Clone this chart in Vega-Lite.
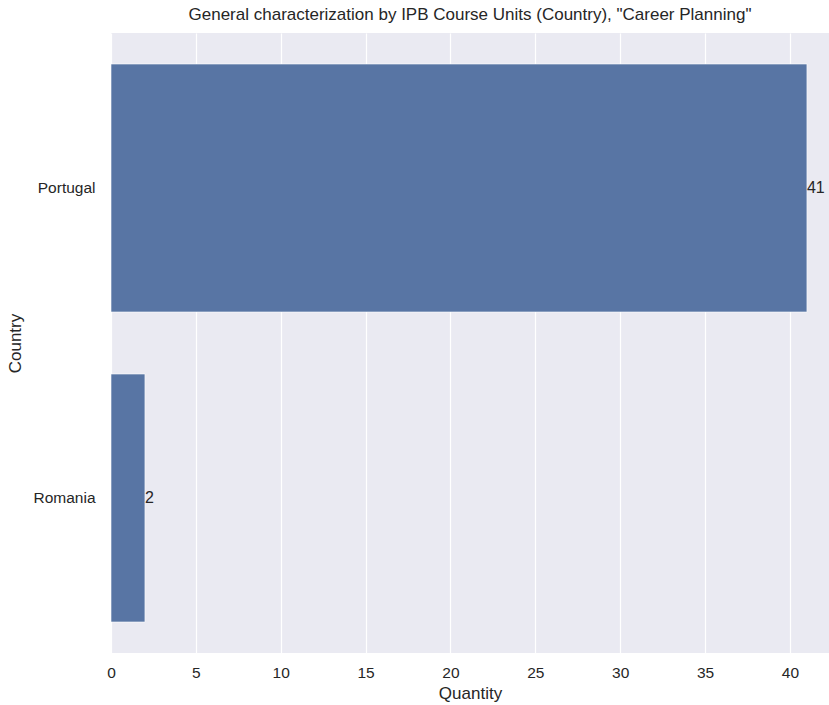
{
  "$schema": "https://vega.github.io/schema/vega-lite/v6.json",
  "width": 718,
  "height": 620,
  "autosize": {"type": "none"},
  "padding": {"left": 111, "top": 33, "right": 0, "bottom": 52},
  "background": "white",
  "title": {
    "text": "General characterization by IPB Course Units (Country), \"Career Planning\"",
    "font": "Liberation Sans",
    "fontSize": 17,
    "fontWeight": "normal",
    "color": "#262626",
    "anchor": "middle",
    "frame": "group",
    "offset": 9
  },
  "config": {
    "view": {"fill": "#EAEAF2", "stroke": null},
    "font": "Liberation Sans"
  },
  "data": {
    "values": [
      {"Country": "Portugal", "Quantity": 41},
      {"Country": "Romania", "Quantity": 2}
    ]
  },
  "encoding": {
    "y": {
      "field": "Country",
      "type": "nominal",
      "sort": ["Portugal", "Romania"],
      "scale": {"paddingInner": 0.2, "paddingOuter": 0.1},
      "axis": {
        "title": "Country",
        "titleFont": "Liberation Sans",
        "titleFontSize": 17,
        "titleFontWeight": "normal",
        "titleColor": "#262626",
        "titlePadding": 8,
        "labelFont": "Liberation Sans",
        "labelFontSize": 15.5,
        "labelColor": "#262626",
        "labelPadding": 16,
        "ticks": false,
        "tickSize": 0,
        "domain": false,
        "grid": false
      }
    },
    "x": {
      "field": "Quantity",
      "type": "quantitative",
      "scale": {"domain": [0, 42.3], "nice": false},
      "axis": {
        "title": "Quantity",
        "titleFont": "Liberation Sans",
        "titleFontSize": 17,
        "titleFontWeight": "normal",
        "titleColor": "#262626",
        "titlePadding": 5,
        "labelFont": "Liberation Sans",
        "labelFontSize": 15.5,
        "labelColor": "#262626",
        "labelPadding": 12,
        "labelFlush": false,
        "values": [0, 5, 10, 15, 20, 25, 30, 35, 40],
        "ticks": false,
        "tickSize": 0,
        "domain": false,
        "grid": true,
        "gridColor": "white",
        "gridWidth": 1.2
      }
    }
  },
  "layer": [
    {
      "mark": {"type": "bar", "color": "#5875A4", "stroke": "#ffffff", "strokeWidth": 0.6}
    },
    {
      "mark": {
        "type": "text",
        "align": "left",
        "baseline": "middle",
        "dx": 0,
        "fontSize": 16,
        "font": "Liberation Sans",
        "color": "#262626"
      },
      "encoding": {"text": {"field": "Quantity", "type": "quantitative"}}
    }
  ]
}
